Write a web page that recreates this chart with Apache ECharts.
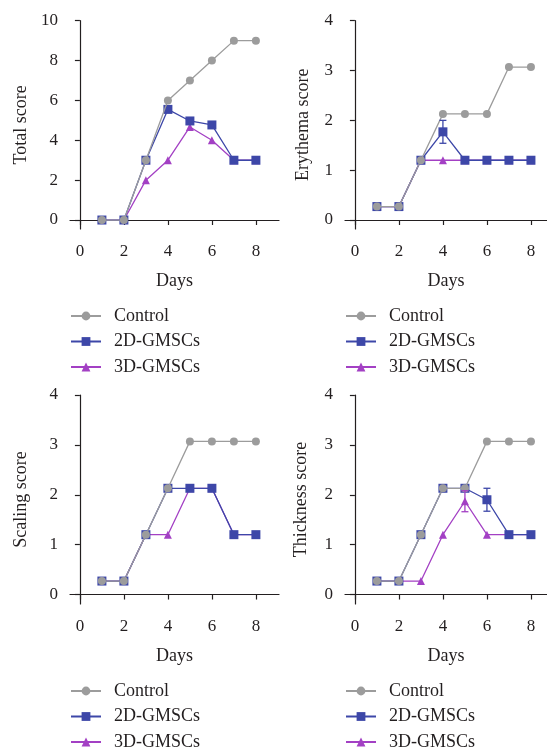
<!DOCTYPE html>
<html>
<head>
<meta charset="utf-8">
<script src="https://cdn.jsdelivr.net/npm/echarts@6/dist/echarts.min.js"></script>
<style>
html,body{margin:0;padding:0;background:#fff;}
#c{width:547px;height:749px;}
</style>
</head>
<body>
<div id="c"></div>
<script>
// ---- data ----
const days = [1, 2, 3, 4, 5, 6, 7, 8];
const seriesNames = ['Control', '2D-GMSCs', '3D-GMSCs'];

const totalControl = [0, 0, 3, 6, 7, 8, 9, 9];
const total2D = [0, 0, 3, 5.55, 4.97, 4.77, 3, 3];
const total3D = [0, 0, 2, 3, 4.67, 4, 3, 3];

const erythemaControl = [0.27, 0.27, 1.2, 2.13, 2.13, 2.13, 3.07, 3.07];
const erythema2D = [0.27, 0.27, 1.2, 1.77, 1.2, 1.2, 1.2, 1.2];
const erythema3D = [0.27, 0.27, 1.2, 1.2, 1.2, 1.2, 1.2, 1.2];

const scalingControl = [0.27, 0.27, 1.2, 2.13, 3.07, 3.07, 3.07, 3.07];
const scaling2D = [0.27, 0.27, 1.2, 2.13, 2.13, 2.13, 1.2, 1.2];
const scaling3D = [0.27, 0.27, 1.2, 1.2, 2.13, 2.13, 1.2, 1.2];

const thicknessControl = [0.27, 0.27, 1.2, 2.13, 2.13, 3.07, 3.07, 3.07];
const thickness2D = [0.27, 0.27, 1.2, 2.13, 2.13, 1.9, 1.2, 1.2];
const thickness3D = [0.27, 0.27, 0.27, 1.2, 1.87, 1.2, 1.2, 1.2];

// error bars: [day, mean, sd]
const erythema2DErr = [[4, 1.77, 0.23]];
const thickness2DErr = [[6, 1.9, 0.23]];
const thickness3DErr = [[5, 1.87, 0.21]];

const xTicks = [0, 2, 4, 6, 8];
const yTicksTotal = [0, 2, 4, 6, 8, 10];
const yTicksScore = [0, 1, 2, 3, 4];
const yNames = ['Total score', 'Erythema score', 'Scaling score', 'Thickness score'];

// ---- style ----
const FONT = 'Liberation Serif';
const INK = '#231f20';
const colors = { 'Control': '#9c9c9c', '2D-GMSCs': '#3d47a8', '3D-GMSCs': '#a340c4' };
const symbols = { 'Control': 'circle', '2D-GMSCs': 'rect', '3D-GMSCs': 'triangle' };
const symSizes = { 'Control': 8, '2D-GMSCs': 9, '3D-GMSCs': 8 };

const panels = [
  { grid: { left: 70, top: 20.7, width: 209, height: 208.3 }, xmax: 9.05, ymin: -0.45, ymax: 10, yTicks: yTicksTotal, nameGap: 40,
    data: { 'Control': totalControl, '2D-GMSCs': total2D, '3D-GMSCs': total3D }, err: [] },
  { grid: { left: 345, top: 20.7, width: 202, height: 208.3 }, xmax: 8.73, ymin: -0.18, ymax: 4, yTicks: yTicksScore, nameGap: 33,
    data: { 'Control': erythemaControl, '2D-GMSCs': erythema2D, '3D-GMSCs': erythema3D }, err: [['2D-GMSCs', erythema2DErr]] },
  { grid: { left: 70, top: 395, width: 209, height: 209 }, xmax: 9.05, ymin: -0.19, ymax: 4, yTicks: yTicksScore, nameGap: 40,
    data: { 'Control': scalingControl, '2D-GMSCs': scaling2D, '3D-GMSCs': scaling3D }, err: [] },
  { grid: { left: 345, top: 395, width: 202, height: 209 }, xmax: 8.73, ymin: -0.19, ymax: 4, yTicks: yTicksScore, nameGap: 35,
    data: { 'Control': thicknessControl, '2D-GMSCs': thickness2D, '3D-GMSCs': thickness3D }, err: [['2D-GMSCs', thickness2DErr], ['3D-GMSCs', thickness3DErr]] }
];

const grids = [], xAxes = [], yAxes = [], series = [], legends = [];
const axisLine = { show: true, lineStyle: { color: INK, width: 1.2 } };
const axisTickBase = { show: true, length: 5, lineStyle: { color: INK, width: 1.2 } };

panels.forEach((p, i) => {
  grids.push(p.grid);
  xAxes.push({
    gridIndex: i, type: 'value', min: -0.45, max: p.xmax,
    name: 'Days', nameLocation: 'middle', nameGap: 43,
    nameTextStyle: { fontFamily: FONT, fontSize: 18, color: INK },
    axisLine: axisLine,
    axisTick: Object.assign({}, axisTickBase, { customValues: xTicks }),
    axisLabel: { customValues: xTicks, fontFamily: FONT, fontSize: 17, color: INK, margin: 14 },
    splitLine: { show: false }
  });
  yAxes.push({
    gridIndex: i, type: 'value', min: p.ymin, max: p.ymax,
    name: yNames[i], nameLocation: 'middle', nameGap: p.nameGap,
    nameTextStyle: { fontFamily: FONT, fontSize: 18, color: INK },
    axisLine: axisLine,
    axisTick: Object.assign({}, axisTickBase, { customValues: p.yTicks }),
    axisLabel: { customValues: p.yTicks, fontFamily: FONT, fontSize: 17, color: INK, margin: 12 },
    splitLine: { show: false }
  });
  // draw order: 3D bottom, 2D, Control top
  ['3D-GMSCs', '2D-GMSCs', 'Control'].forEach((nm, k) => {
    series.push({
      type: 'line', name: nm, xAxisIndex: i, yAxisIndex: i,
      data: days.map((d, j) => [d, p.data[nm][j]]),
      symbol: symbols[nm], symbolSize: symSizes[nm], showAllSymbol: true,
      itemStyle: { color: colors[nm] },
      lineStyle: { color: colors[nm], width: 1.3 },
      z: 2 + k, animation: false
    });
  });
  p.err.forEach(([nm, arr]) => {
    series.push({
      type: 'custom', name: nm + ' err', xAxisIndex: i, yAxisIndex: i,
      data: arr, z: 6, animation: false,
      renderItem: function (params, api) {
        const x = api.value(0), m = api.value(1), e = api.value(2);
        const top = api.coord([x, m + e]);
        const bot = api.coord([x, m - e]);
        const c = colors[nm];
        const st = { stroke: c, lineWidth: 1.3 };
        return {
          type: 'group', children: [
            { type: 'line', shape: { x1: top[0], y1: top[1], x2: bot[0], y2: bot[1] }, style: st },
            { type: 'line', shape: { x1: top[0] - 3.5, y1: top[1], x2: top[0] + 3.5, y2: top[1] }, style: st },
            { type: 'line', shape: { x1: bot[0] - 3.5, y1: bot[1], x2: bot[0] + 3.5, y2: bot[1] }, style: st }
          ]
        };
      }
    });
  });
});

const legendPos = [[70, 307], [345, 307], [70, 682], [345, 682]];
legendPos.forEach(([l, t]) => {
  legends.push({
    data: seriesNames, left: l, top: t, orient: 'vertical', padding: 0,
    width: 200, height: 90,
    itemWidth: 30, itemHeight: 11, itemGap: 7.5, selectedMode: false,
    textStyle: { fontFamily: FONT, fontSize: 18, color: INK, padding: [0, 0, 0, 8] }
  });
});

const chart = echarts.init(document.getElementById('c'), null, { renderer: 'canvas' });
chart.setOption({
  animation: false,
  backgroundColor: '#fff',
  grid: grids, xAxis: xAxes, yAxis: yAxes, legend: legends, series: series
});
</script>
</body>
</html>
